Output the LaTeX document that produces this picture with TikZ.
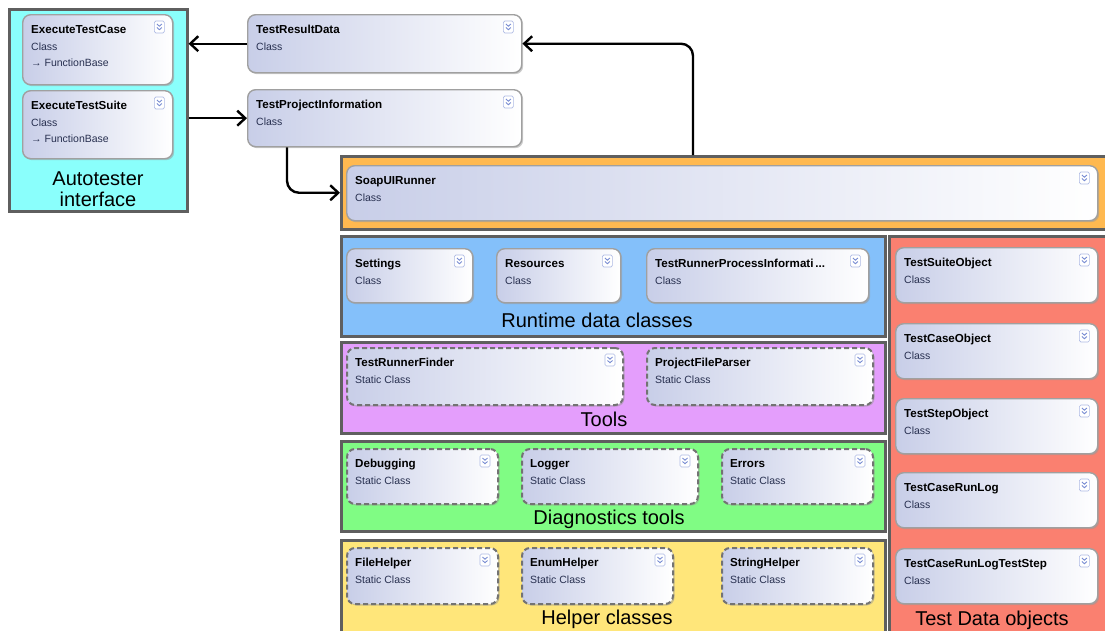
\documentclass[tikz,border=0pt]{standalone}
\usepackage{fontspec}
\setmainfont{Liberation Sans}
\usetikzlibrary{arrows.meta,shadows}
\definecolor{cyangrp}{RGB}{138,255,252}
\definecolor{orangegrp}{RGB}{255,185,80}
\definecolor{bluegrp}{RGB}{132,192,250}
\definecolor{violetgrp}{RGB}{228,158,252}
\definecolor{greengrp}{RGB}{128,252,132}
\definecolor{yellowgrp}{RGB}{255,230,122}
\definecolor{salmongrp}{RGB}{250,128,112}
\definecolor{grpline}{RGB}{95,95,95}
\definecolor{clsline}{RGB}{160,160,160}
\definecolor{staticline}{RGB}{115,115,115}
\definecolor{clsleft}{RGB}{200,206,232}
\definecolor{kindtext}{RGB}{40,48,80}
\definecolor{chevblue}{RGB}{120,140,210}
\tikzset{
  grp/.style={draw=grpline, line width=2.5pt, inner sep=0pt, anchor=north west},
  clsbox/.style={rounded corners=8pt, draw=clsline, line width=1.4pt, left color=clsleft, right color=white,
    inner sep=0pt, anchor=north west, drop shadow={shadow xshift=1.5pt, shadow yshift=-1.5pt, fill=black!40}},
  staticbox/.style={clsbox, draw=staticline, line width=2pt, dash pattern=on 5pt off 3pt},
  ctitle/.style={anchor=base west, inner sep=0pt, font=\fontsize{11.6}{13}\selectfont\bfseries},
  ckind/.style={anchor=base west, inner sep=0pt, font=\fontsize{10.5}{12}\selectfont, text=kindtext},
  glabel/.style={anchor=base, inner sep=0pt, font=\fontsize{20}{24}\selectfont},
  chevbox/.style={draw=chevblue!60, fill=white, rounded corners=1.5pt, line width=.6pt},
  chevline/.style={draw=chevblue, line width=.9pt},
  arr/.style={-{Straight Barb[length=8pt,width=15pt,line width=2.4pt]}, line width=2.4pt, rounded corners=12pt},
}
\newcommand{\chev}[1]{%
  \draw[chevbox] ([shift={(-19pt,-7pt)}]#1.north east) rectangle ++(10pt,-12pt);
  \draw[chevline] ([shift={(-16.5pt,-10pt)}]#1.north east) -- ++(2.5pt,-2.2pt) -- ++(2.5pt,2.2pt);
  \draw[chevline] ([shift={(-16.5pt,-13.5pt)}]#1.north east) -- ++(2.5pt,-2.2pt) -- ++(2.5pt,2.2pt);}
\newcommand{\cls}[8]{%
  \node[#1, minimum width=#5, minimum height=#6] (#2) at (#3,#4) {};
  \node[ctitle] (#2-t) at ([shift={(9pt,-19pt)}]#2.north west) {#7};
  \node[ckind] (#2-k) at ([shift={(9pt,-36pt)}]#2.north west) {#8};
  \chev{#2}}

\begin{document}
\begin{tikzpicture}[x=1pt,y=-1pt]
  \useasboundingbox (0,0) rectangle (1105,630);
  \clip (0,0) rectangle (1105,630);

  \node[grp, fill=cyangrp, minimum width=178, minimum height=202] (autogrp) at (8,8) {};
  \node[grp, fill=orangegrp, minimum width=775, minimum height=73] (soapgrp) at (340,155) {};
  \node[grp, fill=bluegrp, minimum width=544, minimum height=100] (rtgrp) at (340,235) {};
  \node[grp, fill=violetgrp, minimum width=544, minimum height=91] (toolgrp) at (340,341) {};
  \node[grp, fill=greengrp, minimum width=544, minimum height=90] (diaggrp) at (340,440) {};
  \node[grp, fill=yellowgrp, minimum width=544, minimum height=100] (helpgrp) at (340,539) {};
  \node[grp, fill=salmongrp, minimum width=230, minimum height=410] (datagrp) at (888,235) {};

  \cls{clsbox}{etc}{22}{14}{150}{70}{ExecuteTestCase}{Class}
  \node[ckind] (etc-b) at ([shift={(9pt,-52pt)}]etc.north west) {→ FunctionBase};
  \cls{clsbox}{ets}{22}{90}{150}{68}{ExecuteTestSuite}{Class}
  \node[ckind] (ets-b) at ([shift={(9pt,-52pt)}]ets.north west) {→ FunctionBase};
  \cls{clsbox}{trd}{247}{14}{274}{58}{TestResultData}{Class}
  \cls{clsbox}{tpi}{247}{89}{274}{57}{TestProjectInformation}{Class}
  \cls{clsbox}{soap}{346}{165}{751}{55}{SoapUIRunner}{Class}

  \cls{clsbox}{settings}{346}{248}{126}{54}{Settings}{Class}
  \cls{clsbox}{resources}{496}{248}{124}{54}{Resources}{Class}
  \cls{clsbox}{trpi}{646}{248}{222}{54}{TestRunnerProcessInformati\,...}{Class}

  \cls{staticbox}{finder}{346}{347}{276}{57}{TestRunnerFinder}{Static Class}
  \cls{staticbox}{parser}{646}{347}{226}{57}{ProjectFileParser}{Static Class}

  \cls{staticbox}{debugging}{346}{448}{151}{55}{Debugging}{Static Class}
  \cls{staticbox}{logger}{521}{448}{176}{55}{Logger}{Static Class}
  \cls{staticbox}{errors}{721}{448}{151}{55}{Errors}{Static Class}

  \cls{staticbox}{filehelper}{346}{547}{151}{56}{FileHelper}{Static Class}
  \cls{staticbox}{enumhelper}{521}{547}{151}{56}{EnumHelper}{Static Class}
  \cls{staticbox}{stringhelper}{721}{547}{151}{56}{StringHelper}{Static Class}

  \cls{clsbox}{suiteobj}{895}{247}{202}{55}{TestSuiteObject}{Class}
  \cls{clsbox}{caseobj}{895}{323}{202}{55}{TestCaseObject}{Class}
  \cls{clsbox}{stepobj}{895}{398}{202}{55}{TestStepObject}{Class}
  \cls{clsbox}{runlog}{895}{472}{202}{55}{TestCaseRunLog}{Class}
  \cls{clsbox}{runlogstep}{895}{548}{202}{55}{TestCaseRunLogTestStep}{Class}

  \node[glabel] (lauto1) at (98,185) {Autotester};
  \node[glabel] (lauto2) at (98,206) {interface};
  \node[glabel] (lrt) at (597,327) {Runtime data classes};
  \node[glabel] (ltool) at (604,426) {Tools};
  \node[glabel] (ldiag) at (609,524) {Diagnostics tools};
  \node[glabel] (lhelp) at (607,624) {Helper classes};
  \node[glabel] (ldata) at (992,625) {Test Data objects};

  \draw[arr] (trd.west) -- (trd.west -| autogrp.east);
  \draw[arr] (autogrp.east |- tpi.west) -- (tpi.west);
  \draw[arr] ([xshift=40pt]tpi.south west) |- (soapgrp.west);
  \draw[arr] ([xshift=353pt]soapgrp.north west) |- (trd.east);
\end{tikzpicture}
\end{document}
